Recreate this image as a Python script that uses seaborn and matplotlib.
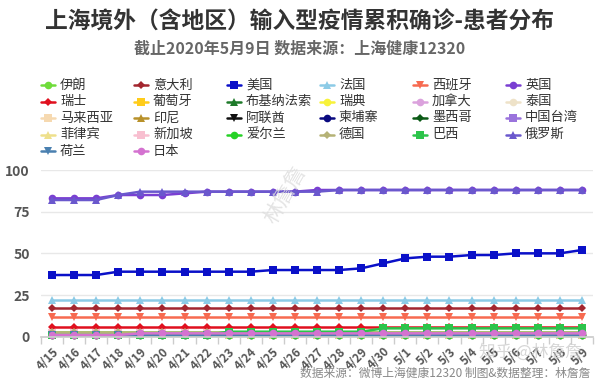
import matplotlib
matplotlib.use('Agg')
import matplotlib.pyplot as plt
import pandas as pd
import seaborn as sns
from matplotlib.lines import Line2D

# ---------------- data ----------------
dates = ['4/15', '4/16', '4/17', '4/18', '4/19', '4/20', '4/21', '4/22', '4/23',
         '4/24', '4/25', '4/26', '4/27', '4/28', '4/29', '4/30', '5/1', '5/2',
         '5/3', '5/4', '5/5', '5/6', '5/7', '5/8', '5/9']

countries = ['伊朗', '意大利', '美国', '法国', '西班牙', '英国',
             '瑞士', '葡萄牙', '布基纳法索', '瑞典', '加拿大', '泰国',
             '马来西亚', '印尼', '阿联酋', '柬埔寨', '墨西哥', '中国台湾',
             '菲律宾', '新加坡', '爱尔兰', '德国', '巴西', '俄罗斯',
             '荷兰', '日本']

iran        = [3, 3, 3, 3, 3, 3, 3, 3, 3, 3, 3, 3, 3, 3, 3, 3, 3, 3, 3, 3, 3, 3, 3, 3, 3]
italy       = [17, 17, 17, 17, 17, 17, 17, 17, 17, 17, 17, 17, 17, 17, 17, 17, 17, 17, 17, 17, 17, 17, 17, 17, 17]
usa         = [37, 37, 37, 39, 39, 39, 39, 39, 39, 39, 40, 40, 40, 40, 41, 44, 47, 48, 48, 49, 49, 50, 50, 50, 52]
france      = [22, 22, 22, 22, 22, 22, 22, 22, 22, 22, 22, 22, 22, 22, 22, 22, 22, 22, 22, 22, 22, 22, 22, 22, 22]
spain       = [12, 12, 12, 12, 12, 12, 12, 12, 12, 12, 12, 12, 12, 12, 12, 12, 12, 12, 12, 12, 12, 12, 12, 12, 12]
uk          = [83, 83, 83, 85, 85, 85, 86, 87, 87, 87, 87, 87, 88, 88, 88, 88, 88, 88, 88, 88, 88, 88, 88, 88, 88]
switzerland = [6, 6, 6, 6, 6, 6, 6, 6, 6, 6, 6, 6, 6, 6, 6, 6, 6, 6, 6, 6, 6, 6, 6, 6, 6]
portugal    = [2, 2, 2, 2, 2, 2, 2, 2, 2, 2, 2, 2, 2, 2, 2, 2, 2, 2, 2, 2, 2, 2, 2, 2, 2]
burkina     = [1, 1, 1, 1, 1, 1, 1, 1, 1, 1, 1, 1, 1, 1, 1, 1, 1, 1, 1, 1, 1, 1, 1, 1, 1]
sweden      = [1, 1, 1, 1, 1, 1, 1, 1, 1, 1, 1, 1, 1, 1, 1, 1, 1, 1, 1, 1, 1, 1, 1, 1, 1]
canada      = [2, 2, 2, 2, 2, 2, 2, 2, 2, 2, 2, 2, 2, 2, 2, 2, 2, 2, 2, 2, 2, 2, 2, 2, 2]
thailand    = [1, 1, 1, 1, 1, 1, 1, 1, 1, 1, 1, 1, 1, 1, 1, 1, 1, 1, 1, 1, 1, 1, 1, 1, 1]
malaysia    = [1, 1, 1, 1, 1, 1, 1, 1, 1, 1, 1, 1, 1, 1, 1, 1, 1, 1, 1, 1, 1, 1, 1, 1, 1]
indonesia   = [1, 1, 1, 1, 1, 1, 1, 1, 1, 1, 1, 1, 1, 1, 1, 1, 1, 1, 1, 1, 1, 1, 1, 1, 1]
uae         = [2, 2, 2, 2, 2, 2, 2, 2, 2, 2, 2, 2, 2, 2, 2, 2, 2, 2, 2, 2, 2, 2, 2, 2, 2]
cambodia    = [1, 1, 1, 1, 1, 1, 1, 1, 1, 1, 1, 1, 1, 1, 1, 1, 1, 1, 1, 1, 1, 1, 1, 1, 1]
mexico      = [1, 1, 1, 1, 1, 1, 1, 1, 1, 1, 1, 1, 1, 1, 1, 1, 1, 1, 1, 1, 1, 1, 1, 1, 1]
taiwan      = [1, 1, 1, 1, 1, 1, 1, 1, 1, 1, 1, 1, 1, 1, 1, 1, 1, 1, 1, 1, 1, 1, 1, 1, 1]
philippines = [1, 1, 1, 1, 1, 1, 1, 1, 1, 1, 1, 1, 1, 1, 1, 1, 1, 1, 1, 1, 1, 1, 1, 1, 1]
singapore   = [2, 2, 2, 2, 2, 2, 2, 2, 2, 2, 2, 2, 2, 2, 2, 2, 2, 2, 2, 2, 2, 2, 2, 2, 2]
ireland     = [1, 1, 1, 1, 1, 1, 1, 1, 1, 1, 1, 1, 1, 1, 1, 1, 1, 1, 1, 1, 1, 1, 1, 1, 1]
germany     = [3, 3, 3, 3, 3, 3, 3, 3, 3, 3, 3, 3, 3, 3, 3, 3, 3, 3, 3, 3, 3, 3, 3, 3, 3]
brazil      = [1, 1, 1, 1, 1, 1, 1, 1, 3, 3, 3, 3, 3, 3, 3, 5, 5, 5, 5, 5, 5, 5, 5, 5, 5]
russia      = [82, 82, 82, 85, 87, 87, 87, 87, 87, 87, 87, 87, 87, 88, 88, 88, 88, 88, 88, 88, 88, 88, 88, 88, 88]
netherlands = [1, 1, 1, 1, 1, 1, 1, 1, 1, 1, 1, 1, 1, 1, 1, 1, 1, 1, 1, 1, 1, 1, 1, 1, 1]
japan       = [1, 1, 1, 1, 2, 2, 2, 2, 2, 2, 2, 2, 2, 2, 2, 2, 2, 2, 2, 2, 2, 2, 2, 2, 2]

series = [iran, italy, usa, france, spain, uk,
          switzerland, portugal, burkina, sweden, canada, thailand,
          malaysia, indonesia, uae, cambodia, mexico, taiwan,
          philippines, singapore, ireland, germany, brazil, russia,
          netherlands, japan]

# ---------------- styles ----------------
colors = ['#6fdc3a', '#a3262f', '#0a10c8', '#8ccbe6', '#f76a50', '#7a3fd2',
          '#e0101e', '#ffcc1a', '#1e7a2a', '#f8f23a', '#dba2dd', '#eee2c8',
          '#f6d9b0', '#b8912a', '#111111', '#0a0a80', '#0b5a16', '#9a73dc',
          '#eee08c', '#f8bfd0', '#26d226', '#b5b276', '#2cc44a', '#6a58cd',
          '#4a80b0', '#d472d0']
markers = ['o', 'D', 's', '^', 'v', 'o',
           'D', 's', '^', 'o', 'o', 'o',
           's', '^', 'v', 'o', 'D', 's',
           '^', 's', 'o', 'D', 's', '^',
           'v', 'o']
palette = dict(zip(countries, colors))
marker_map = dict(zip(countries, markers))

rows = []
for name, vals in zip(countries, series):
    for i, v in enumerate(vals):
        rows.append({'country': name, 'pos': i, 'value': v})
df = pd.DataFrame(rows)

# ---------------- figure ----------------
sns.set_theme(style='white')
plt.rcParams['font.family'] = ['Noto Sans CJK SC', 'DejaVu Sans']

W, H = 600, 381
fig = plt.figure(figsize=(6, 3.81), dpi=100)
ax = fig.add_axes([41 / W, 1 - 336.7 / H, (593 - 41) / W, (336.7 - 170) / H])

sns.lineplot(data=df, x='pos', y='value', hue='country', hue_order=countries,
             palette=palette, style='country', style_order=countries,
             markers=marker_map, dashes=False, markersize=5.5, linewidth=1.8,
             markeredgewidth=0, legend=False, sort=False, ax=ax)
for ln in ax.lines:
    ln.set_clip_on(False)
    if ln.get_marker() == 'D':
        ln.set_markersize(3.8)

ax.set_xlim(-0.5, 24.5)
ax.set_ylim(0, 100)
ax.set_yticks([0, 25, 50, 75, 100])
ax.set_yticklabels(['0', '25', '50', '75', '100'], fontsize=10, fontweight='bold', color='#555555')
ax.set_xticks(range(len(dates)))
ax.set_xticklabels(dates, rotation=45, ha='right', rotation_mode='anchor',
                   fontsize=8.5, color='#555555', fontweight='bold')
ax.set_xticks([i - 0.5 for i in range(len(dates) + 1)], minor=True)
ax.tick_params(axis='x', which='major', length=0, pad=6)
ax.tick_params(axis='x', which='minor', length=5, color='#cccccc', width=1, bottom=True)
ax.tick_params(axis='y', length=0, pad=8)
ax.set_xlabel('')
ax.set_ylabel('')
for s in ['top', 'right', 'left']:
    ax.spines[s].set_visible(False)
ax.spines['bottom'].set_color('#cccccc')
ax.yaxis.grid(True, color='#e8e8e8', linewidth=1)
ax.set_axisbelow(True)

# ---------------- titles ----------------
fig.text(0.5, 1 - 22 / H, '上海境外（含地区）输入型疫情累积确诊-患者分布',
         ha='center', va='center', fontsize=16.4, fontweight='bold', color='#333333')
fig.text(0.5, 1 - 49 / H, '截止2020年5月9日 数据来源：上海健康12320',
         ha='center', va='center', fontsize=11.5, fontweight='bold', color='#666666')
fig.text(590 / W, 1 - 373 / H, '数据来源：微博上海健康12320 制图&数据整理：林詹詹',
         ha='right', va='center', fontsize=8.5, color='#888888', fontweight='medium')

# watermarks
fig.text(285 / W, 1 - 195 / H, '林詹詹', ha='center', va='center', rotation=60,
         fontsize=15, color='#dddddd', alpha=0.8)
fig.text(530 / W, 1 - 352 / H, '知乎 @林詹詹', ha='center', va='center',
         fontsize=12, color='#cccccc', alpha=0.8)

# ---------------- legend (row-wise grid) ----------------
for idx, (name, c, m) in enumerate(zip(countries, colors, markers)):
    r, col = divmod(idx, 6)
    xc = 48 + 93 * col
    yc = 85 + 16.5 * r
    fy = 1 - yc / H
    fig.add_artist(Line2D([(xc - 7) / W, (xc + 7) / W], [fy, fy], color=c, lw=1.8,
                          transform=fig.transFigure))
    fig.add_artist(Line2D([xc / W], [fy], color=c, marker=m,
                          markersize=3.8 if m == 'D' else 5.5,
                          markeredgewidth=0, transform=fig.transFigure))
    fig.text((xc + 12) / W, fy, name, ha='left', va='center', fontsize=9.5,
             color='#333333', fontweight='medium')

fig.savefig('out.png', dpi=100)
